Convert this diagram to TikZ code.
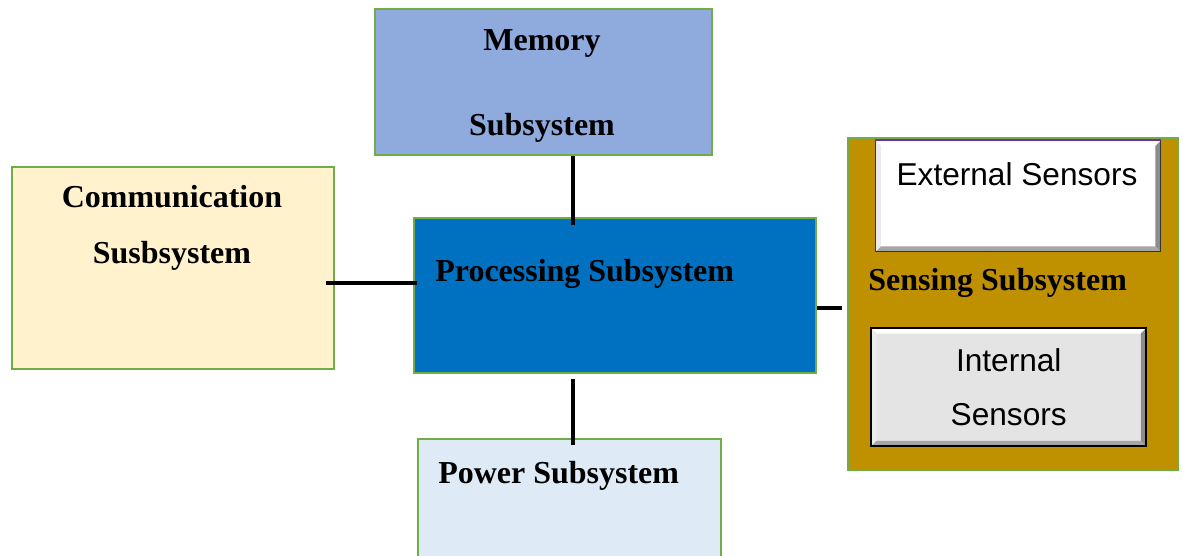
\documentclass[tikz,border=0pt]{standalone}
\usepackage{fontspec}
\setmainfont{Liberation Serif}
\newfontfamily\sensfont{Liberation Sans}
\usetikzlibrary{positioning, calc}
\definecolor{cEDGE}{HTML}{70AD47}
\definecolor{cMEM}{HTML}{8FAADC}
\definecolor{cCOMM}{HTML}{FFF2CC}
\definecolor{cPROC}{HTML}{0070C0}
\definecolor{cPOW}{HTML}{DEEBF7}
\definecolor{cSENS}{HTML}{BF9000}
\definecolor{cINT}{HTML}{E4E4E4}
\definecolor{cTOP}{HTML}{7030A0}
\newcommand{\px}{0.02cm}
\newcommand{\bev}{3pt}
\tikzset{
  subsys/.style={
    draw=cEDGE, line width=1.1pt,
    fill=#1,
    anchor=north west,
    inner sep=0pt
  },
  title/.style={
    font=\bfseries\fontsize{18.2}{21.6}\selectfont,
    text=black,
    inner sep=0pt,
    align=center
  },
  sensor/.style={
    fill=#1,
    draw=black!80, line width=0.8pt,
    anchor=north west,
    inner sep=0pt,
    align=center,
    font=\sensfont\fontsize{18}{30.6}\selectfont,
    path picture={
      % light bevel on the top and left
      \fill[white] (path picture bounding box.north west) -- (path picture bounding box.north east)
        -- ([shift={(-\bev,-\bev)}]path picture bounding box.north east)
        -- ([shift={(\bev,-\bev)}]path picture bounding box.north west) -- cycle;
      \fill[white!92!black] (path picture bounding box.north west) -- (path picture bounding box.south west)
        -- ([shift={(\bev,\bev)}]path picture bounding box.south west)
        -- ([shift={(\bev,-\bev)}]path picture bounding box.north west) -- cycle;
      % dark bevel on the bottom and right
      \fill[black!35] (path picture bounding box.south west) -- (path picture bounding box.south east)
        -- ([shift={(-\bev,\bev)}]path picture bounding box.south east)
        -- ([shift={(\bev,\bev)}]path picture bounding box.south west) -- cycle;
      \fill[black!45] (path picture bounding box.north east) -- (path picture bounding box.south east)
        -- ([shift={(-\bev,\bev)}]path picture bounding box.south east)
        -- ([shift={(-\bev,-\bev)}]path picture bounding box.north east) -- cycle;
    }
  },
  link/.style={
    line width=2.1pt,
    draw=black
  }
}

\begin{document}
\begin{tikzpicture}[x=\px, y=-\px]
  \useasboundingbox (0,0) rectangle (1183,555);

  % subsystem boxes
  \node[subsys=cMEM, minimum width=337*\px, minimum height=146*\px] (mem) at (374,8) {};
  \node[subsys=cCOMM, minimum width=322*\px, minimum height=202*\px] (comm) at (11,166) {};
  \node[subsys=cPROC, minimum width=402*\px, minimum height=155*\px] (proc) at (413,217) {};
  \node[subsys=cPOW, minimum width=303*\px, minimum height=130*\px] (pow) at (417,438) {};
  \node[subsys=cSENS, minimum width=330*\px, minimum height=332*\px] (sens) at (847,137) {};

  % sensors inside the sensing box
  \node[sensor=white, minimum width=285*\px, minimum height=111*\px] (ext) at (875,140) {};
  \draw[cTOP, line width=1.2pt] (ext.north west) -- (ext.north east);
  \node[sensor=cINT, draw=black, line width=1.4pt, minimum width=275*\px, minimum height=118*\px] (int) at (870,327) {Internal\\Sensors};

  % labels
  \node[title, font=\bfseries\fontsize{18.2}{48.8}\selectfont] (memlbl) at (542,86) {Memory\\Subsystem};
  \node[title, font=\bfseries\fontsize{18.2}{31.8}\selectfont] (commlbl) at (172,228) {Communication\\Susbsystem};
  \node[title, anchor=west] (proclbl) at (435,274) {Processing Subsystem};
  \node[title, anchor=west] (powlbl) at (438,476) {Power Subsystem};
  \node[title, anchor=west] (senslbl) at (868,283) {Sensing Subsystem};
  \node[inner sep=0pt, font=\sensfont\fontsize{18}{21.6}\selectfont] (extlbl) at (1017,174) {External Sensors};

  % connectors
  \coordinate (bus) at (573,0);
  \coordinate (ltap) at (326,283);
  \coordinate (rtap) at (842,308);
  \draw[link] (mem.south -| bus) -- ($(proc.north -| bus)+(0,8)$);
  \draw[link] (ltap) -- ($(proc.west |- ltap)+(4,0)$);
  \draw[link] (proc.east |- rtap) -- (rtap);
  \draw[link] ($(proc.south -| bus)+(0,5)$) -- ($(pow.north -| bus)+(0,7)$);
\end{tikzpicture}
\end{document}
